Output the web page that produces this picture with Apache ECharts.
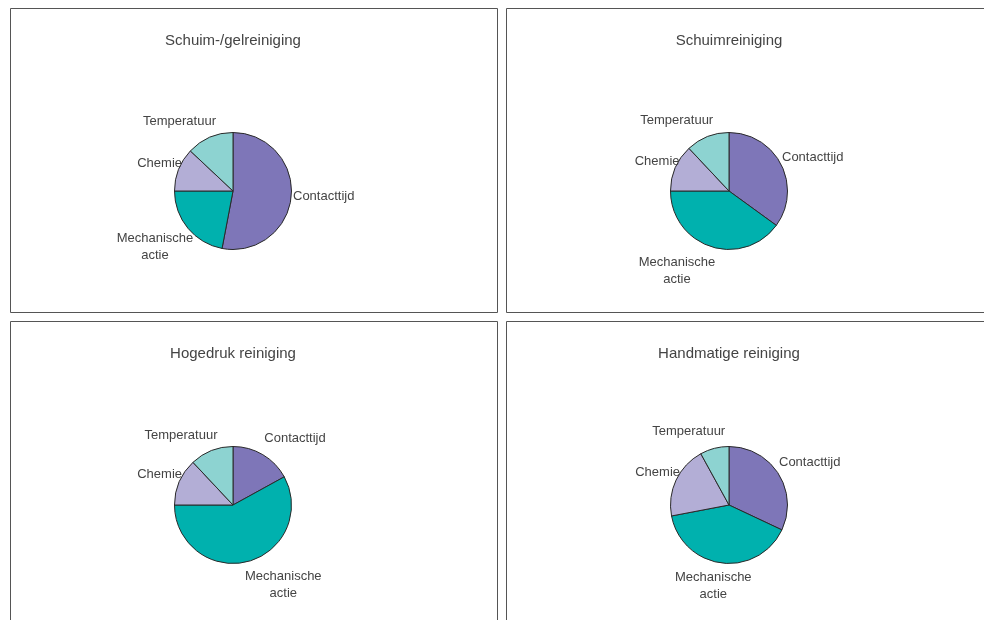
<!DOCTYPE html>
<html>
<head>
<meta charset="utf-8">
<script src="https://cdn.jsdelivr.net/npm/echarts@6/dist/echarts.min.js"></script>
<style>
  html, body { margin: 0; padding: 0; background: #fff; }
  #chart { width: 984px; height: 620px; }
</style>
</head>
<body>
<div id="chart"></div>
<script>
// categories, clockwise from 12 o'clock
const categories = ['Contacttijd', 'Mechanische actie', 'Chemie', 'Temperatuur'];
const colors = ['#7e76b8', '#00b1ae', '#b3aed6', '#8dd3d1'];

// panel titles
const titles = ['Schuim-/gelreiniging', 'Schuimreiniging', 'Hogedruk reiniging', 'Handmatige reiniging'];

// share per method (%)
const schuimGel = [53, 22, 12, 13];
const schuim = [35, 40, 13, 12];
const hogedruk = [17, 58, 13, 12];
const handmatig = [32, 40, 20, 8];
const values = [schuimGel, schuim, hogedruk, handmatig];

// layout: pie centres and panel frames
const centers = [[233, 191], [729, 191], [233, 505], [729, 505]];
const radius = 58.5;
const frames = [
  [10.5, 8.5, 487, 304],
  [506.5, 8.5, 490, 304],
  [10.5, 321.5, 487, 310],
  [506.5, 321.5, 490, 310]
];
const titleY = [41, 41, 354, 354];

// where each slice label sits (x, y, align), same order as categories
const labelSpots = [
  [[293, 196.5, 'left'], [155, 246.7, 'center'], [182, 163.3, 'right'], [179.5, 121.7, 'center']],
  [[782, 157.3, 'left'], [677, 271, 'center'], [679.5, 161.7, 'right'], [676.7, 120.7, 'center']],
  [[264.3, 438.3, 'left'], [283.3, 584.7, 'center'], [182, 474, 'right'], [181, 435, 'center']],
  [[779, 462.7, 'left'], [713.3, 586.3, 'center'], [680, 472.7, 'right'], [688.7, 431.7, 'center']]
];

const font = "'Liberation Sans', Arial, sans-serif";
const chart = echarts.init(document.getElementById('chart'), null, { renderer: 'canvas' });

const option = {
  backgroundColor: '#fff',
  animation: false,
  title: titles.map((t, i) => ({
    text: t,
    left: centers[i][0],
    top: titleY[i],
    textAlign: 'center',
    textVerticalAlign: 'middle',
    padding: 0,
    textStyle: { fontFamily: font, fontSize: 15, fontWeight: 'normal', color: '#444' }
  })),
  graphic: frames.map(f => ({
    type: 'rect',
    silent: true,
    shape: { x: f[0], y: f[1], width: f[2], height: f[3] },
    style: { fill: 'none', stroke: '#555', lineWidth: 1 }
  })),
  series: values.map((vals, i) => ({
    type: 'pie',
    center: centers[i],
    radius: radius,
    startAngle: 90,
    clockwise: true,
    avoidLabelOverlap: false,
    itemStyle: { borderColor: '#2a2a2a', borderWidth: 1 },
    label: {
      show: true,
      position: 'outside',
      fontFamily: font,
      fontSize: 13,
      lineHeight: 17,
      color: '#444',
      formatter: p => p.name.replace(' ', '\n')
    },
    labelLine: { show: false },
    labelLayout: p => {
      const s = labelSpots[i][p.dataIndex];
      return { x: s[0], y: s[1], align: s[2], verticalAlign: 'middle', hideOverlap: false };
    },
    emphasis: { disabled: true },
    data: categories.map((c, k) => ({
      name: c,
      value: vals[k],
      itemStyle: { color: colors[k] }
    }))
  }))
};

chart.setOption(option);
</script>
</body>
</html>
